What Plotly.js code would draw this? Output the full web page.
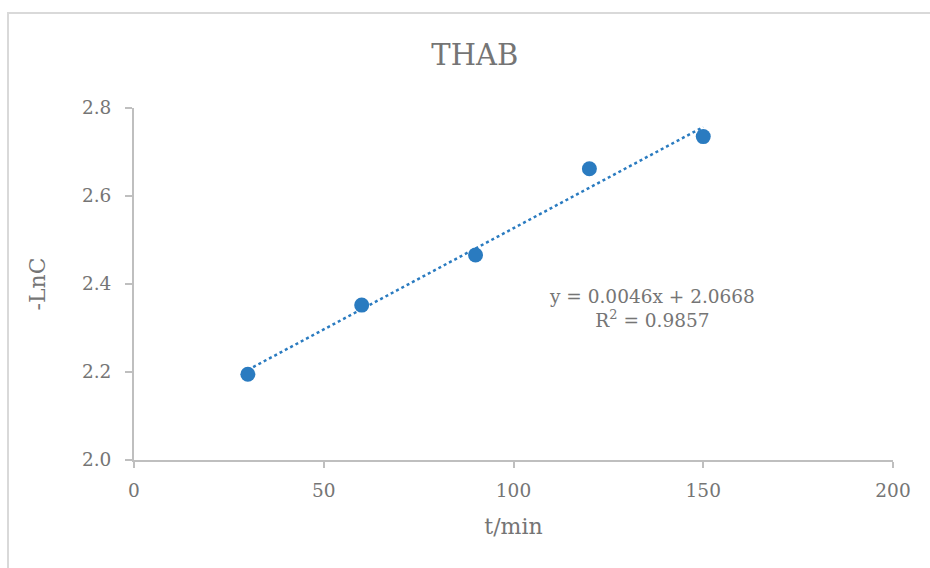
<!DOCTYPE html>
<html>
<head>
<meta charset="utf-8">
<script src="https://cdn.plot.ly/plotly-3.0.1.min.js"></script>
<style>html,body{margin:0;padding:0;background:#fff;}#chart{width:930px;height:568px;}</style>
</head>
<body>
<div id="chart"></div>
<script>
const timeMin = [30, 60, 90, 120, 150];
const negLnC = [2.195, 2.352, 2.466, 2.662, 2.735];
const trendSlope = 0.0046;
const trendIntercept = 2.0668;
const xTicks = [0, 50, 100, 150, 200];
const yTicks = [2.0, 2.2, 2.4, 2.6, 2.8];
const yTickText = ["2.0", "2.2", "2.4", "2.6", "2.8"];

const trendX = [timeMin[0], timeMin[timeMin.length - 1]];
const trendY = trendX.map(x => trendSlope * x + trendIntercept);

const font = "'DejaVu Serif', serif";
const gray = "#757575";
const blue = "#2a7bc0";

const data = [
  {x: trendX, y: trendY, mode: 'lines', type: 'scatter',
   line: {color: blue, width: 2.5, dash: 'dot'}, hoverinfo: 'skip', showlegend: false},
  {x: timeMin, y: negLnC, mode: 'markers', type: 'scatter',
   marker: {color: blue, size: 15}, showlegend: false}
];

const layout = {
  width: 930, height: 568,
  margin: {l: 134, r: 37, t: 108, b: 108},
  paper_bgcolor: '#fff', plot_bgcolor: '#fff',
  font: {family: font, color: gray, size: 18},
  title: {text: 'THAB', font: {family: font, size: 29, color: gray}, xref: 'paper', x: 0.449, xanchor: 'center', y: 0.903, yanchor: 'middle'},
  xaxis: {
    range: [0, 200], tickvals: xTicks, ticktext: xTicks.map(String),
    showgrid: false, zeroline: false, showline: true, linecolor: '#bfbfbf', linewidth: 2,
    ticks: 'outside', ticklen: 6, tickcolor: '#bfbfbf', tickwidth: 2,
    ticklabelstandoff: 7,
    tickfont: {family: font, size: 18.5, color: gray},
    title: {text: 't/min', font: {family: font, size: 22, color: gray}, standoff: 18}
  },
  yaxis: {
    range: [2.0, 2.8], tickvals: yTicks, ticktext: yTickText,
    showgrid: false, zeroline: false, showline: true, linecolor: '#bfbfbf', linewidth: 2,
    ticks: 'outside', ticklen: 7, tickcolor: '#bfbfbf', tickwidth: 2,
    ticklabelstandoff: 10,
    tickfont: {family: font, size: 18.5, color: gray},
    title: {text: '-LnC', font: {family: font, size: 22, color: gray}, standoff: 30}
  },
  annotations: [{
    xref: 'paper', yref: 'paper', x: 0.6825, y: 0.431, xanchor: 'center', yanchor: 'middle',
    text: 'y = 0.0046x + 2.0668<br>R<sup>2</sup> = 0.9857', showarrow: false,
    font: {family: font, size: 18.5, color: gray}, align: 'center'
  }],
  shapes: [{
    type: 'rect', xref: 'paper', yref: 'paper',
    x0: -0.166, x1: 1.3, y0: -0.6, y1: 1.27,
    line: {color: '#d9d9d9', width: 2}, fillcolor: 'rgba(0,0,0,0)', layer: 'below'
  }]
};

Plotly.newPlot('chart', data, layout, {displayModeBar: false, staticPlot: true});
</script>
</body>
</html>
